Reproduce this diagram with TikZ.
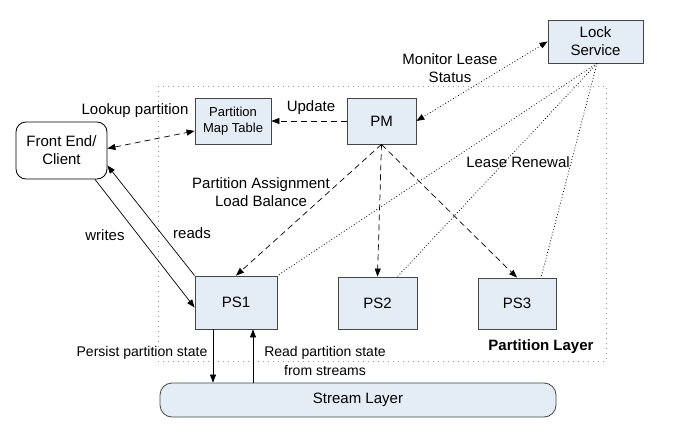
\documentclass[tikz,border=0pt]{standalone}
\usepackage{fontspec}
\setmainfont{Liberation Sans}
\usepackage{tikz}
\usetikzlibrary{calc, arrows.meta, positioning}

\definecolor{boxblue}{RGB}{228,236,246}
\definecolor{boxline}{RGB}{70,70,70}

\begin{document}
\begin{tikzpicture}[x=1pt, y=-1pt, >={Triangle[length=8pt,width=6pt]},
    block/.style={draw=boxline, line width=0.8pt, rectangle, fill=boxblue,
                  align=center, font=\fontsize{15}{18}\selectfont, inner sep=0pt},
    client/.style={draw=black, line width=0.8pt, rectangle, rounded corners=10pt,
                  fill=white, align=center, font=\fontsize{15}{18}\selectfont, inner sep=0pt},
    lbl/.style={align=center, font=\fontsize{15}{18}\selectfont, inner sep=0pt},
    slbl/.style={align=center, font=\fontsize{14}{19}\selectfont, inner sep=0pt},
    dashline/.style={line width=0.7pt, dash pattern=on 6pt off 4pt},
    dotline/.style={line width=0.8pt, dash pattern=on 0.8pt off 2.2pt},
    solidline/.style={line width=0.7pt}
  ]
  \useasboundingbox (0,0) rectangle (679,427);

  % partition layer frame
  \draw[gray!80, line width=0.8pt, dash pattern=on 1pt off 4pt]
    (158,86) rectangle (606,361);
  \node[font=\fontsize{15}{18}\selectfont\bfseries, inner sep=0pt] (layer) at (541,347) {Partition Layer};

  % boxes
  \node[client, minimum width=91pt, minimum height=57pt] (fe) at (61.5,150.5) {Front End/\\Client};
  \node[block, minimum width=76pt, minimum height=46pt, font=\fontsize{13}{16}\selectfont] (pmt) at (233,121) {Partition\\Map Table};
  \node[block, minimum width=69pt, minimum height=46pt] (pm) at (381.5,121) {PM};
  \node[block, minimum width=95pt, minimum height=43pt] (lock) at (595.5,41.5) {Lock\\Service};
  \node[block, minimum width=82pt, minimum height=53pt] (ps1) at (236,302.5) {PS1};
  \node[block, minimum width=79pt, minimum height=52pt] (ps2) at (377.5,303) {PS2};
  \node[block, minimum width=78pt, minimum height=51pt] (ps3) at (517,303.5) {PS3};
  \node[block, rounded corners=12pt, minimum width=396pt, minimum height=34pt] (stream) at (358,400) {Stream Layer};

  % lookup
  \draw[dashline, <->] ([yshift=2pt]fe.east) -- ([yshift=-10pt]pmt.west);
  \node[lbl] (lookup) at (135,111) {Lookup partition};

  % update
  \draw[dashline, ->] (pm.west) -- (pmt.east);
  \node[lbl] (update) at (311,108) {Update};

  % lease monitoring
  \draw[dotline, <->] (lock.west) -- (pm.east);
  \node[lbl] (monitor) at (450,68) {Monitor Lease\\Status};

  % lease renewal
  \coordinate (lk) at ([xshift=1.5pt]lock.south);
  \draw[dotline] (lk) -- (ps1.north east);
  \draw[dotline] (lk) -- ([xshift=20pt]ps2.north);
  \draw[dotline] (lk) -- ([xshift=24pt]ps3.north);
  \node[lbl] (renew) at (518,162) {Lease Renewal};

  % assignment
  \draw[dashline, ->] (pm.south) -- (ps1.north);
  \draw[dashline, ->] (pm.south) -- (ps2.north);
  \draw[dashline, ->] (pm.south) -- (ps3.north);
  \node[lbl] (assign) at (261,192) {Partition Assignment\\Load Balance};

  % client traffic
  \draw[solidline, ->] ([xshift=33.5pt]fe.south) -- ([yshift=-5pt]ps1.west);
  \draw[solidline, ->] (ps1.north west) -- ([yshift=-15pt]fe.east);
  \node[lbl] (writes) at (105,235) {writes};
  \node[lbl] (reads) at (192,233) {reads};

  % streams
  \draw[solidline, ->] ([xshift=-23pt]ps1.south) -- ([xshift=-23pt]ps1.south |- stream.north);
  \draw[solidline, ->] ([xshift=17pt]ps1.south |- stream.north) -- ([xshift=17pt]ps1.south);
  \node[slbl] (persist) at (142,353) {Persist partition state};
  \node[slbl] (readst) at (325,361) {Read partition state\\from streams};
\end{tikzpicture}
\end{document}
